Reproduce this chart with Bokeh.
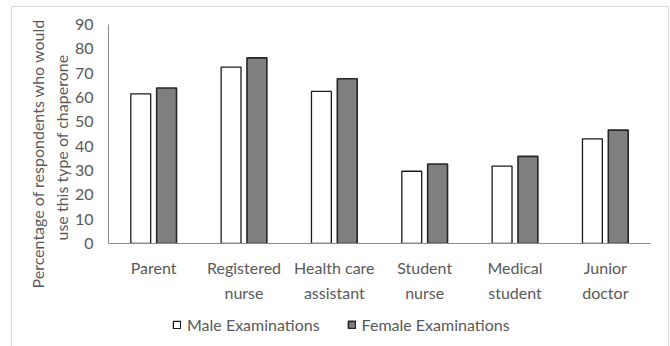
from bokeh.plotting import figure
from bokeh.layouts import column
from bokeh.models import (FactorRange, Legend, LegendItem, FixedTicker, Title,
                          ColumnDataSource, Range1d)
from bokeh.transform import dodge
from bokeh.embed import file_html
from bokeh.resources import INLINE

categories = ["Parent", "Registered\nnurse", "Health care\nassistant", "Student\nnurse", "Medical\nstudent", "Junior\ndoctor"]
male = [61.5, 72.5, 62.5, 29.7, 31.8, 43.0]
female = [63.9, 76.3, 67.7, 32.7, 35.8, 46.6]
y_ticks = [0, 10, 20, 30, 40, 50, 60, 70, 80, 90]
series_names = ["Male Examinations", "Female Examinations"]
ylabel_lines = ["Percentage of respondents who would", "use this type of chaperone"]

FONT = "Lato"
TXT = "#595959"
AXC = "#8c8c8c"
MALE_STYLE = dict(fill_color="white", line_color="#1a1a1a", line_width=1.3)
FEMALE_STYLE = dict(fill_color="#7f7f7f", line_color="#262626", line_width=1.6)

p = figure(width=656, height=298, x_range=FactorRange(*categories, range_padding=0),
           y_range=(0, 90), output_backend="svg", toolbar_location=None,
           min_border_left=96, min_border_right=18, min_border_top=17, min_border_bottom=62)
p.outline_line_color = None
p.xgrid.visible = False
p.ygrid.visible = False
p.background_fill_color = "white"
p.border_fill_color = "white"

cds = ColumnDataSource(dict(cat=categories, male=male, female=female))
p.vbar(x=dodge("cat", -0.143, range=p.x_range), top="male", width=0.22, source=cds, **MALE_STYLE)
p.vbar(x=dodge("cat", 0.143, range=p.x_range), top="female", width=0.22, source=cds, **FEMALE_STYLE)

for ax in (p.xaxis[0], p.yaxis[0]):
    ax.axis_line_color = AXC
    ax.axis_line_width = 1
    ax.major_tick_line_color = None
    ax.minor_tick_line_color = None
    ax.major_tick_in = 0
    ax.major_tick_out = 0
    ax.major_label_text_font = FONT
    ax.major_label_text_font_size = "16px"
    ax.major_label_text_color = TXT

p.yaxis.ticker = FixedTicker(ticks=y_ticks)
p.yaxis.major_label_standoff = 15
p.xaxis.major_label_standoff = 14
p.xaxis.major_label_text_line_height = 1.35

# two-line y title as two left-side titles (inner line added first);
# anchored at the frame bottom and shifted by offset (negative = down)
for txt, so, off in [(ylabel_lines[1], 2, 3), (ylabel_lines[0], 3, -45)]:
    p.add_layout(Title(text=txt, align="left", offset=off, standoff=so,
                       text_font=FONT, text_font_size="16px", text_color=TXT,
                       text_font_style="normal"), "left")

# legend strip under the chart (its frame is aligned with the chart's frame)
p2 = figure(width=656, height=43, x_range=Range1d(0, 656), y_range=Range1d(0, 43),
            x_axis_type=None, y_axis_type=None, output_backend="svg", toolbar_location=None,
            min_border=0, min_border_left=0, min_border_right=0, min_border_top=0, min_border_bottom=0)
p2.outline_line_color = None
p2.xgrid.visible = False
p2.ygrid.visible = False
l1 = p2.vbar(x=[-100], top=[1], width=1, **MALE_STYLE)
l2 = p2.vbar(x=[-100], top=[1], width=1, **FEMALE_STYLE)
legend = Legend(items=[LegendItem(label=series_names[0], renderers=[l1]),
                       LegendItem(label=series_names[1], renderers=[l2])],
                orientation="horizontal", location=(64, 14), padding=0, margin=0,
                spacing=27, label_standoff=6, glyph_width=9, glyph_height=9,
                label_text_font=FONT, label_text_font_size="16px", label_text_color=TXT,
                border_line_color=None, background_fill_alpha=0)
p2.add_layout(legend, "center")

layout = column(p, p2, spacing=0, margin=(6, 0, 0, 11),
                styles={"border": "1px solid #d9d9d9"})

open("out.html", "w").write(file_html(layout, INLINE))
